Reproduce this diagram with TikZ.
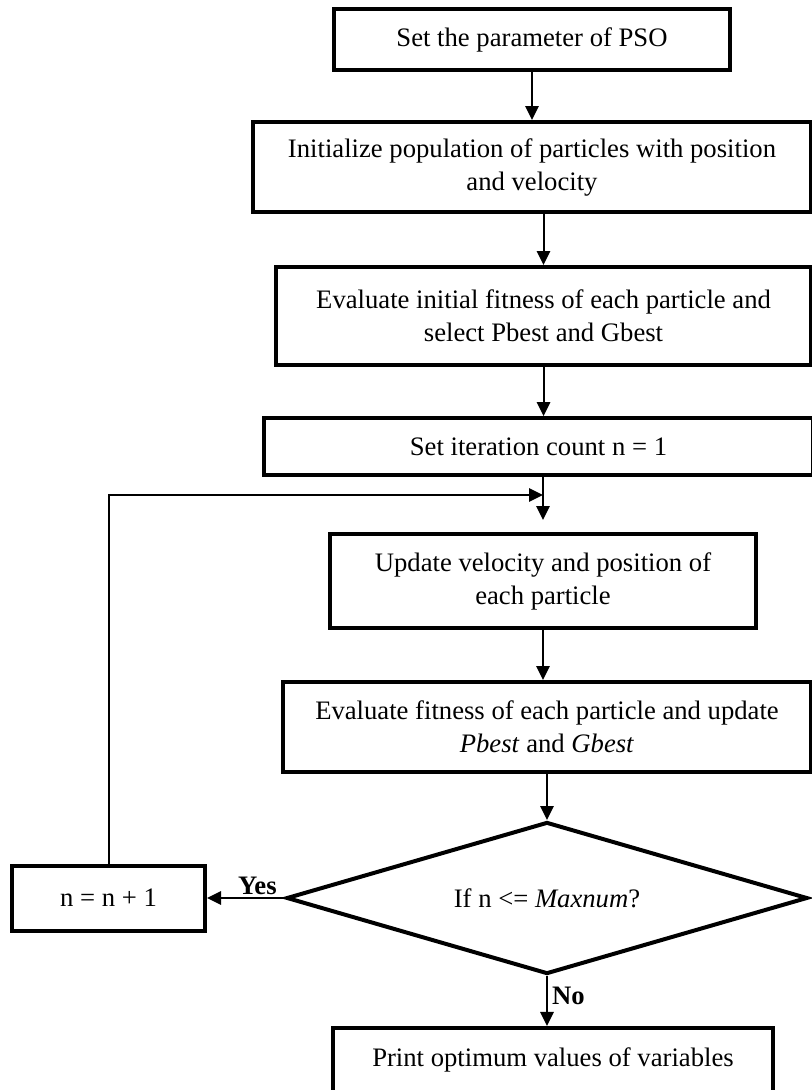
\documentclass[tikz,border=0pt]{standalone}
\usepackage{fontspec}
\setmainfont{Liberation Serif}
\usetikzlibrary{positioning,shapes.geometric,arrows.meta}

\begin{document}
\begin{tikzpicture}[->,>={Triangle[length=10.5pt,width=10pt]},on grid,
      line width=1.5pt,
      every node/.style={font=\fontsize{20}{24.75}\selectfont},
      block/.style={draw,line width=3pt,align=center,inner sep=0pt},
      decision/.style={diamond,draw,line width=3pt,inner sep=0pt,shape aspect=3.43,
        minimum width=390.75pt,minimum height=114pt}]
			\useasboundingbox (0,0) rectangle (609pt,-817.5pt);
			\node[block,minimum width=297pt,minimum height=45.75pt] (param) at (399pt,-29.6pt) {Set the parameter of PSO};
			\node[block,minimum width=418.5pt,minimum height=67.5pt] (init) [below=95.65pt of param] {Initialize population of particles with position\\and velocity};
			\node[block,minimum width=401.25pt,minimum height=73.5pt] (evalinit) [below=111.75pt of init,xshift=8.65pt] {Evaluate initial fitness of each particle and\\select Pbest and Gbest};
			\node[block,minimum width=411.75pt,minimum height=42.75pt] (setn) [below=97.9pt of evalinit,xshift=-3.8pt] {Set iteration count n = 1};
			\node[block,minimum width=319.5pt,minimum height=70.5pt] (update) [below=100.85pt of setn,xshift=3.4pt] {Update velocity and position of\\each particle};
			\node[block,minimum width=396pt,minimum height=67.5pt] (evalfit) [below=109.5pt of update,xshift=3pt] {Evaluate fitness of each particle and update\\\textit{Pbest} and \textit{Gbest}};
			\node[decision] (dec) [below=128.25pt of evalfit] {If n <= \textit{Maxnum}?};
			\node[block,minimum width=144.75pt,minimum height=48.75pt] (nbox) [left=328.85pt of dec] {n = n + 1};
			\node[block,minimum width=330pt,minimum height=68.25pt] (final) [below=131.6pt of dec,xshift=4.5pt] {Print optimum values of variables\\~};
			\path (update.north) ++(0,27.75pt) coordinate (loopin);
			\path (update.north) ++(0,9pt) coordinate (updin);
			\draw (param.south) -- (param.south |- init.north);
			\draw (evalinit.north |- init.south) -- (evalinit.north);
			\draw (evalinit.south) -- (evalinit.south |- setn.north);
			\draw (update.north |- setn.south) -- (updin);
			\draw (nbox.north) |- (loopin);
			\draw (update.south) -- (update.south |- evalfit.north);
			\draw (evalfit.south) -- (evalfit.south |- dec.north);
			\draw (dec.west) -- node[above,pos=0.35,inner sep=1.5pt] {\bfseries Yes} (nbox.east);
			\draw (dec.south) -- node[right,pos=0.4,inner sep=3pt] {\bfseries No} (dec.south |- final.north);
		\end{tikzpicture}
\end{document}
